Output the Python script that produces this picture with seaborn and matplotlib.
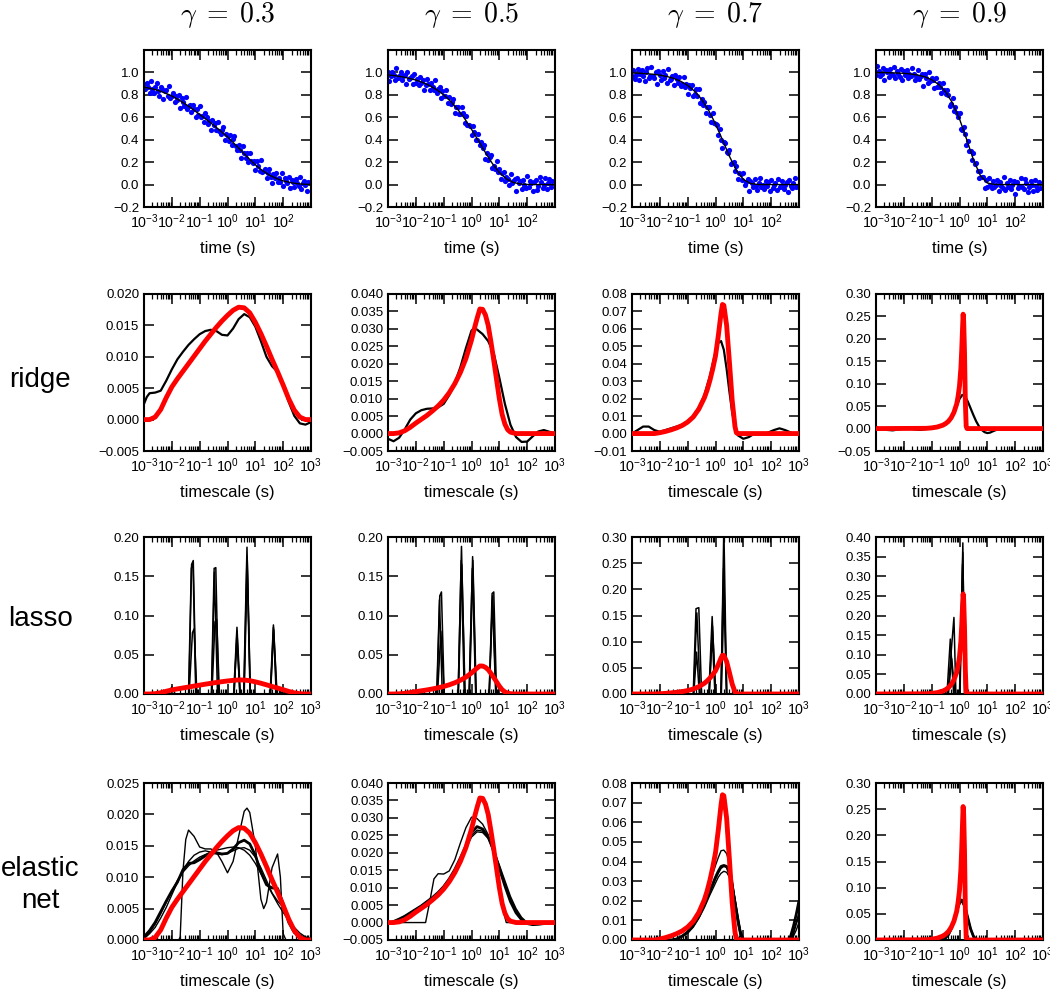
import numpy as np
import matplotlib
matplotlib.use("Agg")
import matplotlib.pyplot as plt
from matplotlib import ticker
import seaborn as sns

sns.set_style("ticks")
plt.rcParams["font.family"] = ["Liberation Sans", "DejaVu Sans"]
plt.rcParams["mathtext.fontset"] = "cm"
plt.rcParams["axes.edgecolor"] = "black"
plt.rcParams["xtick.color"] = "black"
plt.rcParams["ytick.color"] = "black"
plt.rcParams["text.color"] = "black"
plt.rcParams["axes.labelcolor"] = "black"

gammas = [0.3, 0.5, 0.7, 0.9]
row_names = ["ridge", "lasso", "elastic\nnet"]

# ---------------- top row: decay data (log10 of time) ----------------
t_log = [-3.00, -2.95, -2.90, -2.85, -2.80, -2.75, -2.70, -2.65, -2.60, -2.55,
         -2.50, -2.45, -2.40, -2.35, -2.30, -2.25, -2.20, -2.15, -2.10, -2.05,
         -2.00, -1.95, -1.90, -1.85, -1.80, -1.75, -1.70, -1.65, -1.60, -1.55,
         -1.50, -1.45, -1.40, -1.35, -1.30, -1.25, -1.20, -1.15, -1.10, -1.05,
         -1.00, -0.95, -0.90, -0.85, -0.80, -0.75, -0.70, -0.65, -0.60, -0.55,
         -0.50, -0.45, -0.40, -0.35, -0.30, -0.25, -0.20, -0.15, -0.10, -0.05,
         0.00, 0.05, 0.10, 0.15, 0.20, 0.25, 0.30, 0.35, 0.40, 0.45,
         0.50, 0.55, 0.60, 0.65, 0.70, 0.75, 0.80, 0.85, 0.90, 0.95,
         1.00, 1.05, 1.10, 1.15, 1.20, 1.25, 1.30, 1.35, 1.40, 1.45,
         1.50, 1.55, 1.60, 1.65, 1.70, 1.75, 1.80, 1.85, 1.90, 1.95,
         2.00, 2.05, 2.10, 2.15, 2.20, 2.25, 2.30, 2.35, 2.40, 2.45,
         2.50, 2.55, 2.60, 2.65, 2.70, 2.75, 2.80, 2.85, 2.90]

decay_g03 = [.90, .85, .91, .87, .82, .92, .85, .82, .87, .91,
             .83, .79, .87, .85, .76, .83, .84, .79, .88, .77,
             .79, .82, .74, .79, .75, .80, .68, .77, .74, .70,
             .78, .67, .70, .71, .65, .71, .67, .60, .67, .62,
             .70, .60, .61, .56, .64, .60, .54, .57, .49, .58,
             .53, .55, .49, .56, .48, .45, .49, .51, .40, .45,
             .43, .39, .44, .35, .41, .43, .34, .31, .35, .31,
             .24, .34, .28, .24, .28, .20, .28, .21, .19, .21,
             .13, .21, .17, .12, .22, .11, .12, .14, .06, .10,
             .14, .07, .01, .09, .06, .10, .02, .06, .02, .10,
             -.01, .06, .03, .01, .07, -.03, .04, .02, -.02, .05,
             .01, -.01, .07, -.04, .01, .03, .00, -.06, .02]

decay_g05 = [1.00, .92, .97, 1.00, .98, .93, 1.04, .95, .97, 1.00,
             .93, .97, .98, .90, 1.00, .94, .95, .97, .90, .99,
             .91, .94, .89, .96, .91, .93, .84, .89, .94, .90,
             .84, .91, .87, .84, .93, .82, .85, .87, .77, .83,
             .79, .79, .84, .73, .78, .72, .74, .76, .64, .69,
             .69, .63, .63, .69, .64, .55, .61, .53, .53, .52,
             .44, .52, .47, .40, .40, .45, .35, .38, .33, .35,
             .23, .28, .22, .25, .26, .15, .17, .14, .21, .11,
             .14, .05, .10, .11, .03, .07, .05, .00, .09, .01,
             .03, .05, -.06, .06, .01, .03, -.04, .04, .00, -.03,
             .08, -.02, .03, .01, -.06, .02, .04, -.05, -.01, .07,
             .02, -.03, .00, .06, -.04, .01, .05, -.02, .03]

decay_g07 = [.97, 1.02, .94, .98, 1.03, .93, .99, 1.02, .97, .92,
             1.00, 1.04, .95, .97, 1.05, .97, .95, 1.00, .90, 1.01,
             .98, .93, 1.01, .95, .98, .91, 1.03, .93, .94, .97,
             .89, .98, .94, .91, .96, .88, .90, .96, .87, .90,
             .81, .89, .86, .89, .79, .81, .85, .79, .85, .73,
             .76, .71, .74, .64, .69, .69, .62, .56, .64, .55,
             .54, .53, .44, .50, .40, .33, .38, .37, .29, .28,
             .31, .18, .19, .20, .12, .17, .05, .10, .09, .04,
             .10, .00, .02, .05, -.06, .03, .01, -.02, .05, -.01,
             -.05, .01, .06, -.02, .00, -.04, .03, -.01, .02, -.06,
             .04, -.03, .00, .01, -.05, .05, -.02, -.01, .03, -.04,
             .00, .02, -.07, .04, -.01, -.03, .01, .06, -.02]

decay_g09 = [.98, 1.06, 1.01, .97, .99, 1.04, .93, 1.02, 1.00, .96,
             1.03, .99, .98, 1.05, .95, 1.01, .99, .96, 1.03, .93,
             1.01, .98, 1.02, .95, .99, .97, 1.04, .99, .93, .97,
             1.02, .94, .97, .99, .88, .99, .95, .91, 1.00, .92,
             .95, .93, .86, .95, .87, .91, .87, .82, .91, .84,
             .81, .84, .80, .70, .72, .77, .66, .69, .64, .60,
             .64, .50, .49, .51, .45, .35, .39, .30, .30, .22,
             .28, .18, .19, .12, .06, .12, .07, .07, -.03, .04,
             -.02, .06, .00, -.03, .03, -.02, .00, .04, -.06, .02,
             -.01, -.03, .07, -.05, .01, -.02, .04, -.04, .00, .03,
             -.08, .02, -.03, -.01, .06, -.02, -.04, .05, .01, -.07,
             -.02, .03, .00, -.06, .04, -.01, -.05, .02, -.03]

fit_log = [-3.0, -2.75, -2.5, -2.25, -2.0, -1.75, -1.5, -1.25, -1.0, -0.75, -0.5, -0.25,
           0.0, 0.25, 0.5, 0.75, 1.0, 1.25, 1.5, 1.75, 2.0, 2.25, 2.5, 2.75, 3.0]
fit_g03 = [.870, .856, .840, .817, .790, .755, .716, .672, .625, .578, .530, .478,
           .425, .363, .300, .236, .176, .125, .085, .055, .033, .018, .008, .003, .001]
fit_g05 = [.978, .971, .961, .948, .932, .910, .882, .846, .800, .742, .672, .589,
           .493, .390, .285, .187, .107, .051, .019, .005, .001, 0, 0, 0, 0]
fit_g07 = [.995, .993, .989, .984, .976, .964, .947, .921, .884, .832, .760, .663,
           .540, .398, .252, .127, .046, .010, .001, 0, 0, 0, 0, 0, 0]
fit_g09 = [.999, .998, .997, .995, .992, .986, .976, .961, .935, .893, .827, .727,
           .585, .407, .221, .079, .014, .001, 0, 0, 0, 0, 0, 0, 0]

# ---------------- timescale distributions (log10 of timescale) ----------------
grid02 = [-3.0, -2.8, -2.6, -2.4, -2.2, -2.0, -1.8, -1.6, -1.4, -1.2, -1.0, -0.8, -0.6, -0.4, -0.2,
          0.0, 0.2, 0.4, 0.6, 0.8, 1.0, 1.2, 1.4, 1.6, 1.8, 2.0, 2.2, 2.4, 2.6, 2.8, 3.0]

# true distributions (red)
true_x_g03 = grid02
true_y_g03 = [0.0000, 0.0000, 0.0004, 0.0016, 0.0035, 0.0052, 0.0065, 0.0077, 0.0089, 0.0101,
              0.0113, 0.0125, 0.0136, 0.0147, 0.0157, 0.0166, 0.0174, 0.0179, 0.0178, 0.0170,
              0.0155, 0.0137, 0.0117, 0.0096, 0.0076, 0.0055, 0.0033, 0.0015, 0.0004, 0.0000, 0.0000]
true_x_g05 = [-3.0, -2.8, -2.6, -2.4, -2.2, -2.0, -1.8, -1.6, -1.4, -1.2, -1.0, -0.8, -0.6, -0.4, -0.2,
              0.0, 0.1, 0.2, 0.3, 0.4, 0.5, 0.6, 0.7, 0.8, 0.9, 1.0, 1.1, 1.2, 1.3, 1.4, 1.6, 3.0]
true_y_g05 = [0, 0, 0.0002, 0.0008, 0.0018, 0.0030, 0.0041, 0.0052, 0.0065, 0.0079, 0.0096, 0.0117,
              0.0143, 0.0175, 0.0215, 0.0268, 0.0300, 0.0330, 0.0357, 0.0356, 0.0340, 0.0310, 0.0262,
              0.0210, 0.0155, 0.0100, 0.0055, 0.0027, 0.0011, 0.0004, 0.0, 0.0]
true_x_g07 = [-3.0, -2.2, -2.0, -1.8, -1.6, -1.4, -1.2, -1.0, -0.8, -0.6, -0.4, -0.3, -0.2, -0.1,
              0.0, 0.1, 0.2, 0.25, 0.3, 0.4, 0.5, 0.6, 0.7, 0.75, 0.8, 3.0]
true_y_g07 = [0.0, 0.0, 0.0005, 0.0012, 0.0021, 0.0032, 0.0046, 0.0066, 0.0095, 0.0140, 0.0205, 0.0250,
              0.0305, 0.0370, 0.0445, 0.0560, 0.0690, 0.0740, 0.0735, 0.0620, 0.0410, 0.0190, 0.0040,
              0.0005, 0.0, 0.0]
true_x_g09 = [-3.0, -1.2, -1.0, -0.8, -0.6, -0.5, -0.4, -0.3, -0.2, -0.1, -0.05, 0.0, 0.05, 0.08,
              0.11, 0.13, 0.15, 0.18, 0.21, 0.24, 0.27, 3.0]
true_y_g09 = [0.0, 0.0005, 0.0015, 0.0035, 0.0075, 0.011, 0.016, 0.024, 0.036, 0.055, 0.072, 0.095,
              0.135, 0.175, 0.225, 0.255, 0.24, 0.17, 0.06, 0.005, 0.0, 0.0]

# ridge estimates
ridge_x_g03 = [-3.0, -2.9, -2.8, -2.6, -2.4, -2.2, -2.0, -1.8, -1.6, -1.4, -1.2, -1.0, -0.8, -0.6, -0.4, -0.2,
               0.0, 0.2, 0.4, 0.6, 0.8, 1.0, 1.2, 1.4, 1.6, 1.8, 2.0, 2.2, 2.4, 2.6, 2.8, 3.0]
ridge_y_g03 = [0.0025, 0.0036, 0.0042, 0.0043, 0.0046, 0.0062, 0.0080, 0.0096, 0.0108, 0.0119, 0.0128,
               0.0136, 0.0141, 0.0143, 0.0141, 0.0135, 0.0134, 0.0145, 0.0160, 0.0168, 0.0163, 0.0148,
               0.0125, 0.0100, 0.0085, 0.0076, 0.0055, 0.0028, 0.0006, -0.0006, -0.0008, -0.0004]
ridge_x_g05 = [-3.0, -2.8, -2.6, -2.4, -2.2, -2.0, -1.8, -1.6, -1.4, -1.2, -1.0, -0.8, -0.6, -0.4, -0.2,
               0.0, 0.1, 0.2, 0.4, 0.6, 0.8, 1.0, 1.2, 1.4, 1.6, 1.8, 2.0, 2.2, 2.4, 2.6, 2.8, 3.0]
ridge_y_g05 = [-0.0015, -0.0022, -0.0012, 0.0012, 0.0040, 0.0058, 0.0067, 0.0071, 0.0072, 0.0075, 0.0085,
               0.0110, 0.0145, 0.0190, 0.0245, 0.0295, 0.0302, 0.0298, 0.0285, 0.0265, 0.0230, 0.0160,
               0.0085, 0.0025, -0.0010, -0.0024, -0.0023, -0.0008, 0.0006, 0.0010, 0.0005, 0.0]
ridge_x_g07 = [-3.0, -2.8, -2.6, -2.4, -2.2, -2.0, -1.8, -1.6, -1.4, -1.2, -1.0, -0.8, -0.6, -0.4, -0.2,
               0.0, 0.1, 0.2, 0.3, 0.4, 0.5, 0.6, 0.7, 0.8, 1.0, 1.2, 1.4, 1.8, 2.1, 2.3, 2.5, 2.8, 3.0]
ridge_y_g07 = [0.000, 0.002, 0.004, 0.004, 0.002, 0.001, 0.002, 0.003, 0.004, 0.005, 0.007, 0.010,
               0.015, 0.022, 0.033, 0.047, 0.052, 0.053, 0.048, 0.037, 0.024, 0.012, 0.004, -0.001,
               -0.003, -0.002, 0.000, 0.000, 0.002, 0.003, 0.002, 0.000, 0.000]
ridge_x_g09 = [-3.0, -2.8, -2.6, -2.4, -2.2, -2.0, -1.8, -1.6, -1.4, -1.2, -1.0, -0.8, -0.6, -0.4, -0.3,
               -0.2, -0.1, 0.0, 0.1, 0.2, 0.3, 0.4, 0.5, 0.6, 0.7, 0.8, 0.9, 1.0, 1.1, 1.2, 1.4, 1.6, 3.0]
ridge_y_g09 = [0.003, 0.000, -0.003, -0.004, -0.002, 0.000, 0.000, -0.002, -0.003, -0.001, 0.001, 0.003,
               0.007, 0.014, 0.022, 0.034, 0.050, 0.066, 0.075, 0.072, 0.060, 0.045, 0.030, 0.016,
               0.005, -0.003, -0.008, -0.010, -0.009, -0.006, -0.001, 0.000, 0.000]

# lasso estimates (several runs)
lasso_g03_a = ([-3.0, -2.12, -2.0, -1.88, -1.39, -1.29, -1.23, -1.13, -0.58, -0.48, -0.42, -0.32,
                0.22, 0.34, 0.46, 0.58, 0.70, 0.82, 1.53, 1.65, 1.77, 3.0],
               [0, 0, 0.009, 0, 0, 0.165, 0.17, 0, 0, 0.16, 0.161, 0, 0, 0.085, 0, 0, 0.187, 0,
                0, 0.088, 0, 0])
lasso_g03_b = ([-3.0, -1.38, -1.26, -1.20, -1.10, -0.56, -0.45, -0.39, -0.29, 0.24, 0.34, 0.44,
                0.59, 0.70, 0.81, 1.55, 1.65, 1.75, 1.88, 2.0, 2.12, 3.0],
               [0, 0, 0.078, 0.083, 0, 0, 0.092, 0.095, 0, 0, 0.08, 0, 0, 0.175, 0, 0, 0.085, 0,
                0, 0.004, 0, 0])
lasso_g03_c = ([-3.0, -1.40, -1.30, -1.24, -1.14, -0.57, -0.47, -0.36, 0.23, 0.34, 0.45, 0.60,
                0.71, 0.82, 1.54, 1.66, 1.78, 3.0],
               [0, 0, 0.16, 0.168, 0, 0, 0.155, 0, 0, 0.07, 0, 0, 0.17, 0, 0, 0.082, 0, 0])

lasso_g05_a = ([-3.0, -1.24, -1.14, -1.08, -0.98, -0.48, -0.36, -0.24, -0.08, 0.04, 0.16, 0.64,
                0.74, 0.80, 0.90, 3.0],
               [0, 0, 0.125, 0.13, 0, 0, 0.188, 0, 0, 0.175, 0, 0, 0.128, 0.13, 0, 0])
lasso_g05_b = ([-3.0, -2.1, -2.0, -1.9, -1.22, -1.10, -0.98, -0.47, -0.35, -0.23, -0.07, 0.05,
                0.17, 0.64, 0.76, 0.88, 3.0],
               [0, 0, 0.003, 0, 0, 0.08, 0, 0, 0.165, 0, 0, 0.17, 0, 0, 0.125, 0, 0])
lasso_g05_c = ([-3.0, -1.25, -1.15, -1.05, -0.48, -0.37, -0.26, -0.09, 0.03, 0.15, 0.63, 0.75,
                0.87, 3.0],
               [0, 0, 0.12, 0, 0, 0.17, 0, 0, 0.16, 0, 0, 0.12, 0, 0])

lasso_g07_a = ([-3.0, -0.80, -0.70, -0.60, -0.50, -0.24, -0.12, 0.0, 0.20, 0.30, 0.40, 3.0],
               [0, 0, 0.163, 0.165, 0, 0, 0.148, 0, 0, 0.32, 0, 0])
lasso_g07_b = ([-3.0, -0.78, -0.68, -0.58, -0.22, -0.12, -0.02, 0.19, 0.29, 0.39, 3.0],
               [0, 0, 0.08, 0, 0, 0.115, 0, 0, 0.24, 0, 0])
lasso_g07_c = ([-3.0, -0.79, -0.67, -0.55, -0.23, -0.11, 0.01, 0.21, 0.31, 0.41, 3.0],
               [0, 0, 0.155, 0, 0, 0.13, 0, 0, 0.20, 0, 0])

lasso_g09_a = ([-3.0, -0.42, -0.20, -0.13, 0.02, 0.12, 0.18, 3.0],
               [0, 0, 0.195, 0, 0, 0.385, 0, 0])
lasso_g09_b = ([-3.0, -0.45, -0.33, -0.21, 0.0, 0.11, 0.19, 3.0],
               [0, 0, 0.14, 0, 0, 0.33, 0, 0])
lasso_g09_c = ([-3.0, -0.40, -0.28, -0.16, 0.01, 0.12, 0.20, 3.0],
               [0, 0, 0.09, 0, 0, 0.36, 0, 0])

# elastic net estimates (several runs)
enet_g03_a = ([-3.0, -1.75, -1.7, -1.6, -1.5, -1.4, -1.2, -1.0, -0.8, -0.6, -0.4, -0.2, 0.0, 0.2,
               0.4, 0.6, 0.7, 0.8, 1.0, 1.2, 1.3, 1.4, 1.6, 1.8, 1.9, 2.0, 2.1, 3.0],
              [0, 0, 0.0005, 0.011, 0.016, 0.0175, 0.0165, 0.0148, 0.0145, 0.0145, 0.0140, 0.0125,
               0.0107, 0.0125, 0.0165, 0.0205, 0.0210, 0.0203, 0.0150, 0.0065, 0.0050, 0.0060,
               0.0115, 0.0137, 0.0100, 0.0010, 0, 0])
enet_g03_b = (grid02,
              [0.0005, 0.0015, 0.0028, 0.0045, 0.0062, 0.0078, 0.0092, 0.0112, 0.0122, 0.0123, 0.0128,
               0.0134, 0.0138, 0.0139, 0.0137, 0.0138, 0.0145, 0.0155, 0.0159, 0.0153, 0.0135, 0.0108,
               0.0088, 0.0083, 0.0082, 0.0058, 0.0028, 0.0012, 0.0005, 0.0002, 0.0001])
enet_g03_c = (grid02,
              [0.0003, 0.0012, 0.0025, 0.0042, 0.0060, 0.0078, 0.0095, 0.0108, 0.0118, 0.0126, 0.0132,
               0.0136, 0.0140, 0.0143, 0.0145, 0.0147, 0.0148, 0.0147, 0.0143, 0.0135, 0.0122, 0.0106,
               0.0090, 0.0074, 0.0058, 0.0044, 0.0031, 0.0020, 0.0011, 0.0005, 0.0002])
enet_g03_d = (grid02,
              [0.0002, 0.0010, 0.0020, 0.0035, 0.0052, 0.0072, 0.0092, 0.0110, 0.0125, 0.0135, 0.0140,
               0.0142, 0.0140, 0.0137, 0.0136, 0.0138, 0.0142, 0.0146, 0.0147, 0.0143, 0.0132, 0.0115,
               0.0095, 0.0075, 0.0062, 0.0052, 0.0035, 0.0018, 0.0008, 0.0003, 0.0001])

enet_g05_a = ([-3.0, -1.65, -1.5, -1.35, -1.2, -1.0, -0.8, -0.6, -0.4, -0.2, 0.0, 0.2, 0.4, 0.6,
               0.8, 1.0, 1.15, 1.25, 3.0],
              [0, 0, 0.006, 0.0125, 0.014, 0.0139, 0.0148, 0.0180, 0.0228, 0.0272, 0.0302, 0.0298,
               0.0282, 0.0252, 0.0195, 0.0110, 0.0030, 0.0, 0])
enet_g05_b = (grid02,
              [-0.0003, 0.0003, 0.0010, 0.0018, 0.0028, 0.0038, 0.0048, 0.0060, 0.0072, 0.0086, 0.0103,
               0.0125, 0.0152, 0.0185, 0.0220, 0.0258, 0.0275, 0.0268, 0.0245, 0.0205, 0.0155, 0.0105,
               0.0060, 0.0028, 0.0008, -0.0003, -0.0006, -0.0005, -0.0003, -0.0001, 0.0])
enet_g05_c = (grid02,
              [-0.0003, 0.0003, 0.0010, 0.0018, 0.0028, 0.0038, 0.0048, 0.0060, 0.0072, 0.0086, 0.0102,
               0.0123, 0.0150, 0.0182, 0.0215, 0.0250, 0.0265, 0.0262, 0.0243, 0.0207, 0.0160, 0.0110,
               0.0068, 0.0035, 0.0012, -0.0002, -0.0006, -0.0005, -0.0003, -0.0001, 0.0])
enet_g05_d = (grid02,
              [-0.0003, 0.0003, 0.0010, 0.0018, 0.0028, 0.0038, 0.0048, 0.0060, 0.0072, 0.0085, 0.0100,
               0.0120, 0.0147, 0.0178, 0.0211, 0.0245, 0.0260, 0.0258, 0.0241, 0.0208, 0.0165, 0.0120,
               0.0075, 0.0040, 0.0015, 0.0000, -0.0005, -0.0005, -0.0003, -0.0001, 0.0])

enet_x_g07 = [-3.0, -1.6, -1.4, -1.2, -1.0, -0.8, -0.6, -0.4, -0.2, 0.0, 0.1, 0.2, 0.3, 0.4, 0.5,
              0.6, 0.7, 0.8, 0.9, 1.0, 1.1, 2.6, 2.7, 2.8, 2.9, 3.0]
enet_g07_a = (enet_x_g07,
              [0, 0, 0.0005, 0.002, 0.0045, 0.008, 0.013, 0.020, 0.029, 0.038, 0.042, 0.0455, 0.0458,
               0.044, 0.039, 0.031, 0.020, 0.009, 0.002, 0, 0, 0, 0, 0.004, 0.009, 0.014])
enet_g07_b = (enet_x_g07,
              [0, 0, 0.0005, 0.002, 0.004, 0.0075, 0.012, 0.018, 0.025, 0.032, 0.035, 0.0375, 0.038,
               0.0375, 0.034, 0.028, 0.019, 0.010, 0.003, 0.0, 0, 0, 0.002, 0.007, 0.013, 0.020])
enet_g07_c = (enet_x_g07,
              [0, 0, 0.0004, 0.0018, 0.0038, 0.007, 0.0115, 0.0175, 0.0245, 0.031, 0.034, 0.0365,
               0.0375, 0.037, 0.034, 0.029, 0.021, 0.012, 0.004, 0.0005, 0, 0, 0, 0.003, 0.008, 0.012])
enet_g07_d = (enet_x_g07,
              [0, 0, 0.0004, 0.0016, 0.0035, 0.0065, 0.011, 0.0165, 0.023, 0.029, 0.032, 0.034, 0.035,
               0.0345, 0.032, 0.028, 0.021, 0.013, 0.005, 0.001, 0, 0, 0, 0.002, 0.005, 0.009])

enet_x_g09 = [-3.0, -0.7, -0.6, -0.5, -0.4, -0.3, -0.2, -0.1, 0.0, 0.05, 0.1, 0.2, 0.3, 0.4, 0.5,
              0.6, 0.7, 2.8, 2.9, 3.0]
enet_g09_a = (enet_x_g09,
              [0, 0, 0.001, 0.004, 0.011, 0.022, 0.038, 0.058, 0.074, 0.078, 0.077, 0.065, 0.042,
               0.020, 0.006, 0.001, 0, 0, 0.001, 0.005])
enet_g09_b = (enet_x_g09,
              [0, 0, 0.001, 0.004, 0.010, 0.021, 0.036, 0.056, 0.071, 0.075, 0.074, 0.063, 0.042,
               0.021, 0.007, 0.001, 0, 0, 0.001, 0.004])
enet_g09_c = (enet_x_g09,
              [0, 0, 0.0008, 0.0035, 0.009, 0.019, 0.034, 0.053, 0.068, 0.072, 0.072, 0.062, 0.043,
               0.023, 0.009, 0.002, 0, 0, 0.0, 0.003])

# ---------------- assemble per column ----------------
decays = [decay_g03, decay_g05, decay_g07, decay_g09]
fits = [fit_g03, fit_g05, fit_g07, fit_g09]
trues = [(true_x_g03, true_y_g03), (true_x_g05, true_y_g05),
         (true_x_g07, true_y_g07), (true_x_g09, true_y_g09)]
ridges = [(ridge_x_g03, ridge_y_g03), (ridge_x_g05, ridge_y_g05),
          (ridge_x_g07, ridge_y_g07), (ridge_x_g09, ridge_y_g09)]
lassos = [[lasso_g03_a, lasso_g03_b, lasso_g03_c], [lasso_g05_a, lasso_g05_b, lasso_g05_c],
          [lasso_g07_a, lasso_g07_b, lasso_g07_c], [lasso_g09_a, lasso_g09_b, lasso_g09_c]]
enets = [[enet_g03_a, enet_g03_b, enet_g03_c, enet_g03_d],
         [enet_g05_a, enet_g05_b, enet_g05_c, enet_g05_d],
         [enet_g07_a, enet_g07_b, enet_g07_c, enet_g07_d],
         [enet_g09_a, enet_g09_b, enet_g09_c]]
enet_widths = [1.0, 2.0, 1.0, 1.0]

# y axis: (low, high, step, last labelled tick, format)
ylims = [
    [(-0.2, 1.2, 0.2, 1.0, "%.1f")] * 4,
    [(-0.005, 0.020, 0.005, 0.020, "%.3f"), (-0.005, 0.040, 0.005, 0.040, "%.3f"),
     (-0.01, 0.08, 0.01, 0.08, "%.2f"), (-0.05, 0.30, 0.05, 0.30, "%.2f")],
    [(0, 0.20, 0.05, 0.20, "%.2f"), (0, 0.20, 0.05, 0.20, "%.2f"),
     (0, 0.30, 0.05, 0.30, "%.2f"), (0, 0.40, 0.05, 0.40, "%.2f")],
    [(0, 0.025, 0.005, 0.025, "%.3f"), (-0.005, 0.040, 0.005, 0.040, "%.3f"),
     (0, 0.08, 0.01, 0.08, "%.2f"), (0, 0.30, 0.05, 0.30, "%.2f")],
]

# ---------------- figure ----------------
W, H = 1050, 989
fig = plt.figure(figsize=(W / 100, H / 100), dpi=100)
col_left = [144, 388, 632, 876]
row_top = [50, 294, 537, 783]
ax_w, ax_h = 167, 157


def draw_line(ax, logx, y, color, lw, z=2):
    sns.lineplot(x=10.0 ** np.asarray(logx), y=np.asarray(y), ax=ax, color=color,
                 lw=lw, sort=False, estimator=None, zorder=z)


def style(ax, spec, xmax, xlabel):
    lo, hi, step, top, fmt = spec
    ax.set_xscale("log")
    ax.set_xlim(1e-3, xmax)
    ax.set_ylim(lo, hi)
    n = int(round((top - lo) / step))
    ax.yaxis.set_major_locator(ticker.FixedLocator([lo + i * step for i in range(n + 1)]))

    def yfmt(v, p, fmt=fmt):
        v = round(v, 8)
        if abs(v) < 1e-10:
            v = 0.0
        return (fmt % v).replace("-", "\u2212")

    ax.yaxis.set_major_formatter(ticker.FuncFormatter(yfmt))
    ax.yaxis.set_minor_locator(ticker.NullLocator())
    ax.xaxis.set_major_locator(ticker.LogLocator(base=10, numticks=20))
    ax.xaxis.set_minor_locator(ticker.LogLocator(base=10, subs=np.arange(2, 10), numticks=20))
    ax.xaxis.set_minor_formatter(ticker.NullFormatter())
    ax.xaxis.set_major_formatter(ticker.FuncFormatter(
        lambda v, p: r"$\mathregular{10^{%d}}$" % int(round(np.log10(v)))))
    ax.tick_params(which="both", direction="in", top=True, right=True)
    ax.tick_params(axis="y", labelsize=9.5)
    ax.tick_params(axis="x", labelsize=10.3, pad=4)
    ax.tick_params(which="major", length=7, width=1.1)
    ax.tick_params(which="minor", length=3.5, width=0.9)
    for s in ax.spines.values():
        s.set_linewidth(1.5)
        s.set_color("black")
    ax.set_xlabel(xlabel, fontsize=12, labelpad=7)
    ax.set_ylabel("")


for c in range(4):
    axes = []
    for r in range(4):
        ax = fig.add_axes([col_left[c] / W, 1 - (row_top[r] + ax_h) / H, ax_w / W, ax_h / H])
        axes.append(ax)

    # top row: data + fit
    ax = axes[0]
    sns.scatterplot(x=10.0 ** np.asarray(t_log), y=decays[c], ax=ax, color="blue",
                    s=14, linewidth=0, zorder=2)
    draw_line(ax, fit_log, fits[c], "black", 1.0, z=3)
    style(ax, ylims[0][c], 0.995e3, "time (s)")

    tx, ty = trues[c]
    # ridge
    ax = axes[1]
    draw_line(ax, ridges[c][0], ridges[c][1], "black", 1.6)
    draw_line(ax, tx, ty, "red", 3.5, z=4)
    style(ax, ylims[1][c], 1e3, "timescale (s)")
    # lasso
    ax = axes[2]
    for lx, ly in lassos[c]:
        draw_line(ax, lx, ly, "black", 1.1)
    draw_line(ax, tx, ty, "red", 3.5, z=4)
    style(ax, ylims[2][c], 1e3, "timescale (s)")
    # elastic net
    ax = axes[3]
    for k, (ex, ey) in enumerate(enets[c]):
        draw_line(ax, ex, ey, "black", enet_widths[k])
    draw_line(ax, tx, ty, "red", 3.5, z=4)
    style(ax, ylims[3][c], 1e3, "timescale (s)")

    cx = (col_left[c] + ax_w / 2) / W
    fig.text(cx, 1 - 22 / H, r"$\gamma\;=\;%.1f$" % gammas[c], ha="center", va="baseline",
             fontsize=20)

for name, yc in zip(row_names, [380, 619, 885]):
    fig.text(40 / W, 1 - yc / H, name, ha="center", va="center", fontsize=20, linespacing=1.25)

fig.savefig("out.png", dpi=100)
